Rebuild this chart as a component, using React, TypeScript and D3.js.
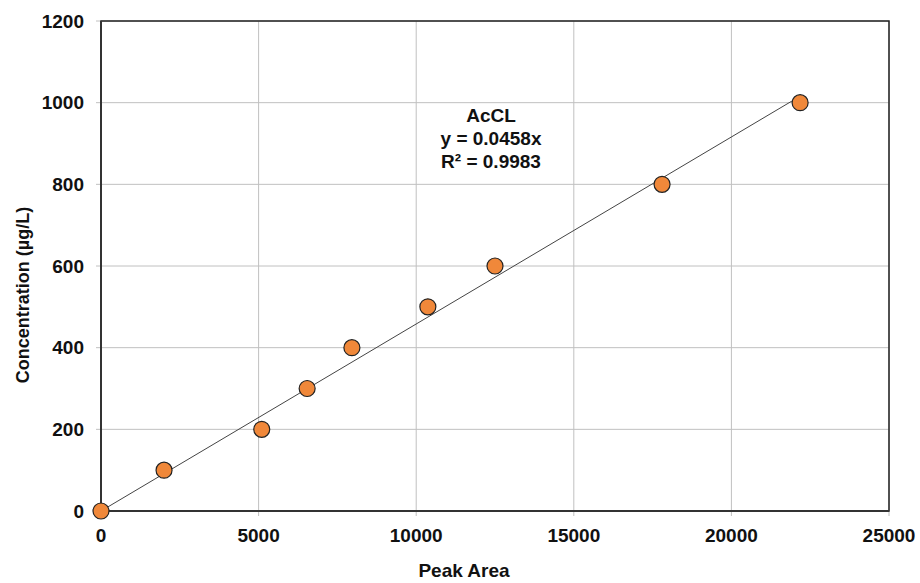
import React from 'react';
import * as d3 from 'd3';

const peakArea = [0, 2000, 5100, 6540, 7960, 10370, 12500, 17800, 22180];
const concentration = [0, 100, 200, 300, 400, 500, 600, 800, 1000];
const xTicks = [0, 5000, 10000, 15000, 20000, 25000];
const yTicks = [0, 200, 400, 600, 800, 1000, 1200];
const slope = 0.0458;
const labelLines = ['AcCL', 'y = 0.0458x', 'R² = 0.9983'];

const width = 920;
const height = 583;
const margin = { top: 21, right: 31, bottom: 72, left: 101 };

const App = () => {
  const innerW = width - margin.left - margin.right;
  const innerH = height - margin.top - margin.bottom;
  const x = d3.scaleLinear().domain([0, 25000]).range([0, innerW]);
  const y = d3.scaleLinear().domain([0, 1200]).range([innerH, 0]);
  const xMax = d3.max(peakArea) as number;
  const font = 'Arial, "Liberation Sans", sans-serif';

  return (
    <svg width={width} height={height} style={{ position: 'absolute', left: 0, top: 0 }} fontFamily={font}>
      <rect width={width} height={height} fill="#fff" />
      <g transform={`translate(${margin.left},${margin.top})`}>
        {xTicks.map(t => (
          <line key={'gx' + t} x1={x(t)} x2={x(t)} y1={0} y2={innerH + 5} stroke="#c0c0c0" strokeWidth={1} />
        ))}
        {yTicks.map(t => (
          <line key={'gy' + t} x1={-5} x2={innerW} y1={y(t)} y2={y(t)} stroke="#c0c0c0" strokeWidth={1} />
        ))}
        <rect x={0} y={0} width={innerW} height={innerH} fill="none" stroke="#222" strokeWidth={1.5} />
        <line x1={0} x2={0} y1={0} y2={innerH} stroke="#333" strokeWidth={2} />
        <line x1={0} x2={innerW} y1={innerH} y2={innerH} stroke="#333" strokeWidth={2} />
        {xTicks.map(t => (
          <text key={'tx' + t} x={x(t)} y={innerH + 31} textAnchor="middle" fontSize={19} fontWeight="bold" fill="#111">{t}</text>
        ))}
        {yTicks.map(t => (
          <text key={'ty' + t} x={-17} y={y(t)} dy="0.35em" textAnchor="end" fontSize={19} fontWeight="bold" fill="#111">{t}</text>
        ))}
        <line x1={x(0)} y1={y(0)} x2={x(xMax)} y2={y(slope * xMax)} stroke="#444" strokeWidth={1} />
        {peakArea.map((p, i) => (
          <circle key={'pt' + i} cx={x(p)} cy={y(concentration[i])} r={8} fill="#F0883A" stroke="#222" strokeWidth={1.2} />
        ))}
        {labelLines.map((s, i) => (
          <text key={'lb' + i} x={390} y={101 + i * 23} textAnchor="middle" fontSize={19} fontWeight="bold" fill="#111">{s}</text>
        ))}
      </g>
      <text x={464} y={577} textAnchor="middle" fontSize={19} fontWeight="bold" fill="#111">Peak Area</text>
      <text transform={`translate(29,295) rotate(-90)`} textAnchor="middle" fontSize={18} fontWeight="bold" fill="#111">Concentration (µg/L)</text>
    </svg>
  );
};

export default App;
